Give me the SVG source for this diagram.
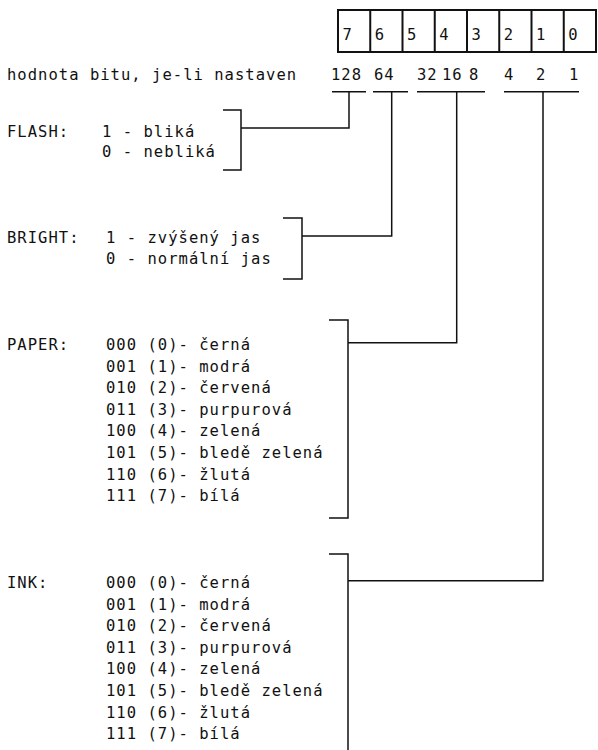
<svg xmlns="http://www.w3.org/2000/svg" width="598" height="750" viewBox="0 0 598 750">
<style>
text { font-family: "DejaVu Sans Mono", "Liberation Mono", monospace; font-size: 15.5px; letter-spacing: 1.03px; fill: #111; }
.ln { stroke: #111; stroke-width: 1.5; fill: none; }
.box { stroke: #111; stroke-width: 2; fill: #fff; }
</style>
<rect width="598" height="750" fill="#fff"/>
<g id="bits">
<rect class="box" x="338" y="10" width="258" height="42"/>
<path class="ln" style="stroke-width:2" d="M370.25 10V52M402.5 10V52M434.75 10V52M467 10V52M499.25 10V52M531.5 10V52M563.75 10V52"/>
<text x="342.5" y="40">7</text>
<text x="374.75" y="40">6</text>
<text x="407" y="40">5</text>
<text x="439.25" y="40">4</text>
<text x="471.5" y="40">3</text>
<text x="503.75" y="40">2</text>
<text x="536" y="40">1</text>
<text x="568.25" y="40">0</text>
</g>
<g id="values">
<text x="7" y="80">hodnota bitu, je-li nastaven</text>
<text x="331" y="80">128</text>
<text x="374" y="80">64</text>
<text x="417" y="80">32</text>
<text x="442" y="80">16</text>
<text x="469" y="80">8</text>
<text x="504" y="80">4</text>
<text x="536" y="80">2</text>
<text x="569" y="80">1</text>
</g>
<g id="flash">
<text x="7" y="137">FLASH:</text>
<text x="102" y="137">1 - bliká</text>
<text x="102" y="157">0 - nebliká</text>
<path class="ln" d="M223 110H241V170H223"/>
</g>
<g id="bright">
<text x="7" y="243">BRIGHT:</text>
<text x="106" y="243">1 - zvýšený jas</text>
<text x="106" y="264">0 - normální jas</text>
<path class="ln" d="M283 218H302V279H283"/>
</g>
<g id="paper">
<text x="7" y="350">PAPER:</text>
<text x="106" y="350">000 (0)- černá</text>
<text x="106" y="371.6">001 (1)- modrá</text>
<text x="106" y="393.2">010 (2)- červená</text>
<text x="106" y="414.8">011 (3)- purpurová</text>
<text x="106" y="436.4">100 (4)- zelená</text>
<text x="106" y="458">101 (5)- bledě zelená</text>
<text x="106" y="479.6">110 (6)- žlutá</text>
<text x="106" y="501.2">111 (7)- bílá</text>
<path class="ln" d="M329 320H348V518H329"/>
</g>
<g id="ink">
<text x="7" y="588">INK:</text>
<text x="106" y="588">000 (0)- černá</text>
<text x="106" y="609.6">001 (1)- modrá</text>
<text x="106" y="631.2">010 (2)- červená</text>
<text x="106" y="652.8">011 (3)- purpurová</text>
<text x="106" y="674.4">100 (4)- zelená</text>
<text x="106" y="696">101 (5)- bledě zelená</text>
<text x="106" y="717.6">110 (6)- žlutá</text>
<text x="106" y="739.2">111 (7)- bílá</text>
<path class="ln" d="M329 554H348V750"/>
</g>
<g id="connectors">
<path class="ln" d="M332 91.7H366M373 91.7H408M417 91.7H485M504 91.7H579"/>
<path class="ln" d="M349 91.7V128H241"/>
<path class="ln" d="M391.7 91.7V236H302"/>
<path class="ln" d="M456.7 91.7V342.7H348"/>
<path class="ln" d="M543 91.7V580.7H348"/>
</g>
</svg>
